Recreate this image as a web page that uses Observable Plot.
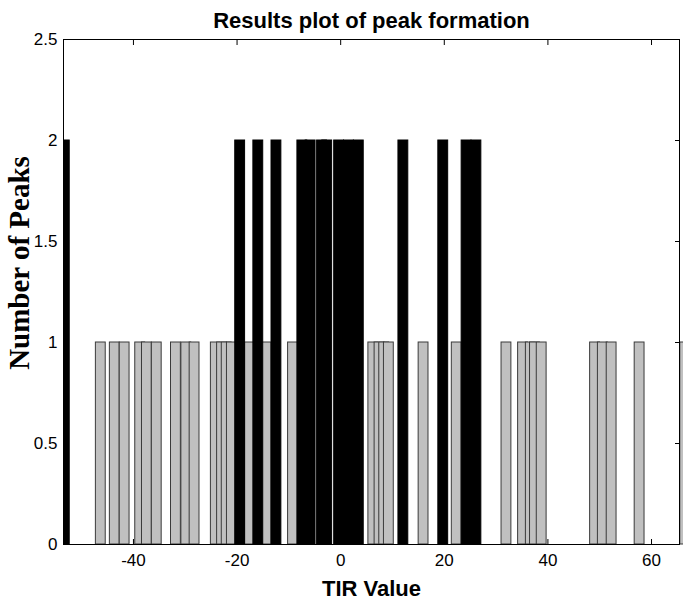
<!DOCTYPE html>
<html>
<head>
<meta charset="utf-8">
<script src="https://cdn.jsdelivr.net/npm/d3@7"></script>
<script src="https://cdn.jsdelivr.net/npm/@observablehq/plot@0.6"></script>
<style>
  html, body { margin: 0; padding: 0; background: #fff; }
  #chart { width: 683px; height: 599px; }
</style>
</head>
<body>
<div id="chart"></div>
<script>
// ---- data ----
const titleText = "Results plot of peak formation";
const xLabelText = "TIR Value";
const yLabelText = "Number of Peaks";

// TIR values with one peak (grey bars)
const onePeakX = [-46.3, -43.6, -41.7, -38.7, -37.4, -35.5, -31.8, -29.8, -28.2,
  -24.1, -22.9, -22.0, -21.0, -17.5, -14.3, -9.2, 6.3, 7.5, 8.4, 9.3, 16.0, 22.4,
  32.0, 35.2, 36.7, 37.5, 38.8, 49.1, 50.6, 52.3, 57.7, 66.5];
const onePeakY = onePeakX.map(() => 1);

// TIR values with two peaks (black bars)
const twoPeakX = [-53.25, -19.4, -15.9, -12.4, -7.4, -5.8, -3.6, -2.6, -0.3, 1.6, 3.5,
  12.1, 19.8, 24.3, 26.2];
const twoPeakY = twoPeakX.map(() => 2);

const xTicks = [-40, -20, 0, 20, 40, 60];
const yTicks = [0, 0.5, 1, 1.5, 2, 2.5];
const xDomain = [-53.5, 65.4];
const yDomain = [0, 2.5];

// ---- build tables ----
const ones = onePeakX.map((x, i) => ({x, y: onePeakY[i]}));
const twos = twoPeakX.map((x, i) => ({x, y: twoPeakY[i]}));
const halfW = 0.95;

const sans = "'Liberation Sans', Arial, sans-serif";
const serif = "'Liberation Serif', 'Times New Roman', serif";

const chart = Plot.plot({
  width: 683,
  height: 599,
  marginTop: 39,
  marginBottom: 55,
  marginLeft: 63,
  marginRight: 4,
  style: {fontFamily: sans, fontSize: "17px", background: "#fff", color: "#000"},
  x: {domain: xDomain, label: null},
  y: {domain: yDomain, label: null},
  marks: [
    Plot.rectY(ones, {x1: d => d.x - halfW, x2: d => d.x + halfW, y1: 0, y2: "y",
      fill: "#c0c0c0", stroke: "#3a3a3a", strokeWidth: 1}),
    Plot.rectY(twos, {x1: d => d.x - halfW, x2: d => d.x + halfW, y1: 0, y2: "y",
      fill: "#000", stroke: "#000", strokeWidth: 1, clip: true}),
    Plot.frame({stroke: "#000", strokeWidth: 1}),
    Plot.axisX(xTicks, {anchor: "bottom", tickSize: -5, tickPadding: 14,
      tickFormat: d => String(d), fontSize: 17, label: null}),
    Plot.axisX(xTicks, {anchor: "top", tickSize: -5, tickFormat: () => "", label: null}),
    Plot.axisY(yTicks, {anchor: "left", tickSize: -5, tickPadding: 11,
      tickFormat: d => String(d), fontSize: 17, label: null}),
    Plot.axisY(yTicks, {anchor: "right", tickSize: -5, tickFormat: () => "", label: null}),
    Plot.text([titleText], {frameAnchor: "top", text: d => d, dy: -12, lineAnchor: "bottom",
      fontSize: 22, fontWeight: "bold", fontFamily: sans}),
    Plot.text([xLabelText], {frameAnchor: "bottom", text: d => d, dy: 51, lineAnchor: "bottom",
      fontSize: 22, fontWeight: "bold", fontFamily: sans}),
    Plot.text([yLabelText], {frameAnchor: "left", text: d => d, dx: -35, dy: -29, rotate: -90,
      textAnchor: "middle", lineAnchor: "bottom", fontSize: 29, fontWeight: "bold", fontFamily: serif})
  ]
});
document.getElementById("chart").appendChild(chart);
</script>
</body>
</html>
